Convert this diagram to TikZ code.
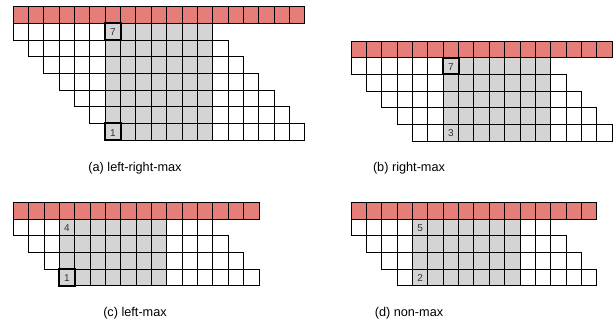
\documentclass[tikz,border=0pt]{standalone}
\usepackage{fontspec}
\setmainfont{Liberation Sans}
\usetikzlibrary{positioning}
\definecolor{cellred}{RGB}{229,125,121}
\definecolor{cellgray}{RGB}{212,212,212}

\tikzset{
    cell/.style={draw=black, line width=0.8pt},
    hotcell/.style={draw=black, line width=2pt},
    celltext/.style={font=\fontsize{10}{12}\selectfont, text=black!80, inner sep=0pt},
    caption/.style={font=\fontsize{12.7}{15}\selectfont, inner sep=0pt},
    panel/.style={x=15.36pt, y=-16.67pt}
}

% #1 = rows below the red row, #2..#3 = gray columns
\newcommand{\stairgrid}[3]{%
    \pgfmathtruncatemacro{\lastred}{#1+11}
    % staircase rows
    \foreach \r [evaluate=\r as \first using int(\r-1),
                 evaluate=\r as \last using int(\r+11)] in {1,...,#1} {
        \foreach \c in {\first,...,\last} {
            \def\cellfill{white}
            \ifnum\c<#2\relax\else\ifnum\c>#3\relax\else\def\cellfill{cellgray}\fi\fi
            \filldraw[cell, fill=\cellfill] (\c,\r) rectangle ++(1,1);
        }
    }
    % red row on top
    \foreach \c in {0,...,\lastred}
        \filldraw[cell, fill=cellred] (\c,0) rectangle ++(1,1);
}

\begin{document}
\begin{tikzpicture}[x=1pt, y=-1pt]
    \useasboundingbox (0,0) rectangle (615,327);

    % (a) left-right-max
    \begin{scope}[xshift=13pt, yshift=-6.7pt, panel]
        \stairgrid{7}{6}{12}
        \draw[hotcell] (6,1) rectangle ++(1,1);
        \draw[hotcell] (6,7) rectangle ++(1,1);
        \node[celltext] (a-top) at (6.5,1.55) {7};
        \node[celltext] (a-bot) at (6.5,7.55) {1};
    \end{scope}
    \node[caption] (cap-a) at (135,168.5) {(a) left-right-max};

    % (b) right-max
    \begin{scope}[xshift=351pt, yshift=-41pt, panel]
        \stairgrid{5}{6}{12}
        \draw[hotcell] (6,1) rectangle ++(1,1);
        \node[celltext] (b-top) at (6.5,1.55) {7};
        \node[celltext] (b-bot) at (6.5,5.55) {3};
    \end{scope}
    \node[caption] (cap-b) at (409,168.5) {(b) right-max};

    % (c) left-max
    \begin{scope}[xshift=13.2pt, yshift=-202.5pt, panel]
        \stairgrid{4}{3}{9}
        \draw[hotcell] (3,4) rectangle ++(1,1);
        \node[celltext] (c-top) at (3.5,1.55) {4};
        \node[celltext] (c-bot) at (3.5,4.55) {1};
    \end{scope}
    \node[caption] (cap-c) at (135,313.5) {(c) left-max};

    % (d) non-max
    \begin{scope}[xshift=351pt, yshift=-202.5pt, panel]
        \stairgrid{4}{4}{10}
        \node[celltext] (d-top) at (4.5,1.55) {5};
        \node[celltext] (d-bot) at (4.5,4.55) {2};
    \end{scope}
    \node[caption] (cap-d) at (409,313.5) {(d) non-max};
\end{tikzpicture}
\end{document}
